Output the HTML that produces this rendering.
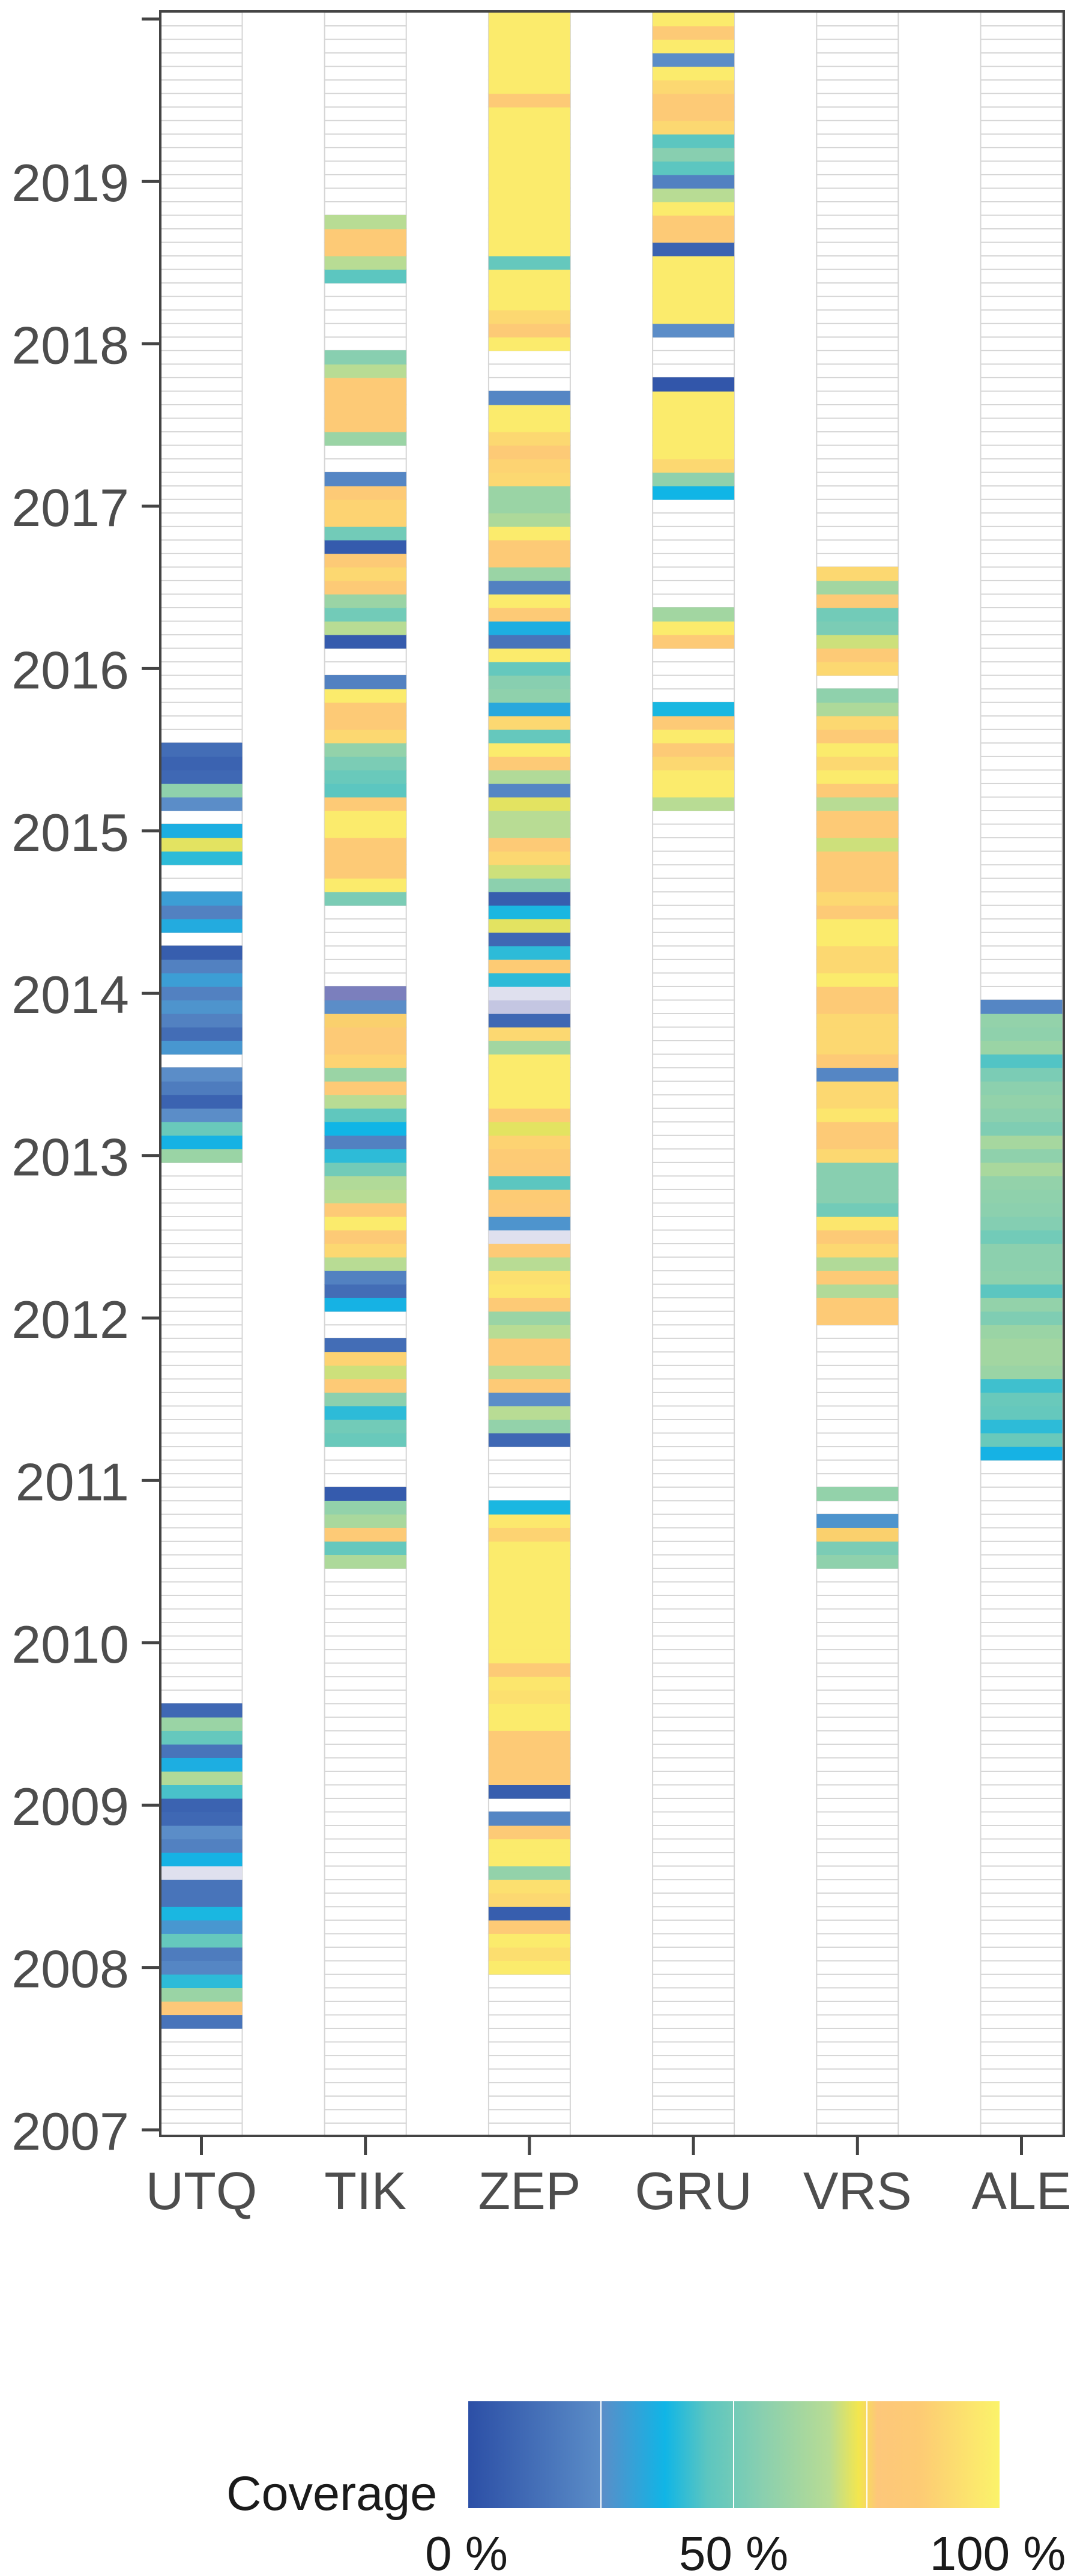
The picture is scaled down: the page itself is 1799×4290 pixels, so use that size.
<!DOCTYPE html>
<html><head><meta charset="utf-8"><style>
html,body{margin:0;padding:0;background:#fff}
svg{display:block}
text{font-family:"Liberation Sans",Arial,sans-serif}
</style></head><body>
<svg id="chart" width="1799" height="4290" viewBox="0 0 1799 4290" xmlns="http://www.w3.org/2000/svg">
<defs>
<linearGradient id="cbar" x1="0" x2="1" y1="0" y2="0">
<stop offset="0" stop-color="#2c4fa6"/><stop offset="0.25" stop-color="#5b8dc8"/><stop offset="0.37" stop-color="#10b5e6"/><stop offset="0.45" stop-color="#5cc6c0"/><stop offset="0.55" stop-color="#88cfb0"/><stop offset="0.68" stop-color="#b8dc94"/><stop offset="0.735" stop-color="#f3e64e"/><stop offset="0.77" stop-color="#fdc77a"/><stop offset="0.85" stop-color="#fdcb74"/><stop offset="1" stop-color="#fbf36a"/>
</linearGradient>
</defs>
<g id="cells"></g>
<g id="axes"></g>
<g>
<text x="377" y="4180" font-size="81" fill="#1a1a1a">Coverage</text>
<rect x="780" y="3999" width="885" height="178" fill="url(#cbar)"/>
<line x1="1001" x2="1001" y1="3999" y2="4177" stroke="#fff" stroke-width="2"/>
<line x1="1222" x2="1222" y1="3999" y2="4177" stroke="#fff" stroke-width="2"/>
<line x1="1444" x2="1444" y1="3999" y2="4177" stroke="#fff" stroke-width="2"/>
<text x="777" y="4280" font-size="80" text-anchor="middle" fill="#1a1a1a">0 %</text>
<text x="1222" y="4280" font-size="80" text-anchor="middle" fill="#1a1a1a">50 %</text>
<text x="1662" y="4280" font-size="80" text-anchor="middle" fill="#1a1a1a">100 %</text>
</g>
</svg>
<script>
const stations = ["UTQ","TIK","ZEP","GRU","VRS","ALE"];
const yearTicks = [2007,2008,2009,2010,2011,2012,2013,2014,2015,2016,2017,2018,2019,2020];
const yearLabels = ["2007","2008","2009","2010","2011","2012","2013","2014","2015","2016","2017","2018","2019",""];
const startYear = 2007;
const N = null;
// monthly coverage, index 0 = Jan 2007 ... 156 = Jan 2020
const utq = [
N,N,N,N,N,N,N,N,0.15,0.78,0.6,0.4,
0.22,0.18,0.47,0.28,0.38,0.15,0.15,1.05,0.36,0.2,0.25,0.1,
0.08,0.43,0.66,0.35,0.15,0.47,0.6,0.1,N,N,N,N,
N,N,N,N,N,N,N,N,N,N,N,N,
N,N,N,N,N,N,N,N,N,N,N,N,
N,N,N,N,N,N,N,N,N,N,N,N,
0.6,0.36,0.48,0.25,0.08,0.18,0.25,N,0.28,0.12,0.2,0.27,
0.2,0.3,0.2,0.06,N,0.34,0.2,0.3,N,N,0.4,0.72,
0.35,N,0.25,0.57,0.1,0.08,0.12,N,N,N,N,N,
N,N,N,N,N,N,N,N,N,N,N,N,
N,N,N,N,N,N,N,N,N,N,N,N,
N,N,N,N,N,N,N,N,N,N,N,N,
N,N,N,N,N,N,N,N,N,N,N,N,
N];
const tik = [
N,N,N,N,N,N,N,N,N,N,N,N,
N,N,N,N,N,N,N,N,N,N,N,N,
N,N,N,N,N,N,N,N,N,N,N,N,
N,N,N,N,N,N,0.65,0.47,0.82,0.64,0.58,0.05,
N,N,N,0.48,0.5,0.4,0.56,0.82,0.7,0.88,0.12,N,
N,0.36,0.12,0.2,0.68,0.9,0.82,0.97,0.82,0.68,0.66,0.5,
0.4,0.2,0.37,0.46,0.68,0.82,0.6,0.88,0.82,0.82,0.76,0.25,
1.3,N,N,N,N,N,N,0.52,0.97,0.83,0.82,0.82,
0.97,0.97,0.82,0.45,0.48,0.52,0.58,0.9,0.82,0.82,0.97,0.2,
N,N,0.05,0.68,0.5,0.6,0.82,0.9,0.82,0.05,0.5,0.88,
0.88,0.82,0.22,N,N,0.6,0.82,0.82,0.82,0.82,0.68,0.55,
N,N,N,N,N,0.45,0.68,0.82,0.82,0.68,N,N,
N,N,N,N,N,N,N,N,N,N,N,N,
N];
const zep = [
N,N,N,N,N,N,N,N,N,N,N,N,
0.97,0.92,0.97,0.82,0.06,0.9,0.93,0.58,0.97,0.97,0.82,0.22,
N,0.06,0.82,0.82,0.82,0.82,0.97,0.97,0.93,0.95,0.83,0.97,
0.97,0.97,0.97,0.97,0.97,0.97,0.97,0.97,0.88,0.96,0.38,N,
N,N,N,0.1,0.58,0.68,0.25,0.82,0.68,0.82,0.82,0.68,
0.6,0.82,0.95,0.93,0.68,0.83,1.05,0.27,0.82,0.85,0.45,0.82,
0.84,0.88,0.72,0.82,0.97,0.97,0.97,0.97,0.62,0.9,0.1,1.1,
1.05,0.4,0.85,0.4,0.1,0.72,0.38,0.06,0.56,0.7,0.9,0.82,
0.68,0.68,0.72,0.22,0.66,0.82,0.97,0.47,0.9,0.33,0.57,0.55,
0.47,0.97,0.15,0.35,0.82,0.97,0.2,0.6,0.82,0.82,0.97,0.65,
0.6,0.6,0.9,0.88,0.82,0.9,0.97,0.97,0.22,N,N,N,
0.97,0.82,0.9,0.97,0.97,0.97,0.47,0.97,0.97,0.97,0.97,0.97,
0.97,0.97,0.97,0.97,0.97,0.97,0.82,0.97,0.97,0.97,0.97,0.97,
0.97];
const gru = [
N,N,N,N,N,N,N,N,N,N,N,N,
N,N,N,N,N,N,N,N,N,N,N,N,
N,N,N,N,N,N,N,N,N,N,N,N,
N,N,N,N,N,N,N,N,N,N,N,N,
N,N,N,N,N,N,N,N,N,N,N,N,
N,N,N,N,N,N,N,N,N,N,N,N,
N,N,N,N,N,N,N,N,N,N,N,N,
N,N,N,N,N,N,N,N,N,N,N,N,
N,N,0.68,0.97,0.97,0.9,0.82,0.97,0.82,0.38,N,N,
N,N,0.82,0.97,0.62,N,N,N,N,N,N,N,
N,0.37,0.57,0.9,0.97,0.97,0.97,0.97,0.97,0.03,N,N,
N,0.25,0.97,0.97,0.97,0.97,0.97,0.08,0.82,0.82,0.97,0.68,
0.2,0.45,0.55,0.45,0.9,0.82,0.82,0.9,0.97,0.25,0.97,0.82,
0.97];
const vrs = [
N,N,N,N,N,N,N,N,N,N,N,N,
N,N,N,N,N,N,N,N,N,N,N,N,
N,N,N,N,N,N,N,N,N,N,N,N,
N,N,N,N,N,N,0.57,0.52,0.76,0.27,N,0.58,
N,N,N,N,N,N,N,N,N,N,N,N,
0.82,0.82,0.66,0.82,0.66,0.9,0.82,0.95,0.5,0.55,0.55,0.55,
0.9,0.82,0.82,0.95,0.9,0.9,0.22,0.82,0.9,0.9,0.9,0.82,
0.82,0.97,0.9,0.9,0.97,0.97,0.82,0.9,0.82,0.82,0.82,0.7,
0.82,0.82,0.68,0.82,0.97,0.9,0.97,0.82,0.9,0.65,0.57,N,
0.9,0.82,0.7,0.52,0.5,0.82,0.62,0.9,N,N,N,N,
N,N,N,N,N,N,N,N,N,N,N,N,
N,N,N,N,N,N,N,N,N,N,N,N,
N,N,N,N,N,N,N,N,N,N,N,N,
N];
const ale = [
N,N,N,N,N,N,N,N,N,N,N,N,
N,N,N,N,N,N,N,N,N,N,N,N,
N,N,N,N,N,N,N,N,N,N,N,N,
N,N,N,N,N,N,N,N,N,N,N,N,
N,N,0.36,0.48,0.4,0.47,0.48,0.42,0.6,0.62,0.62,0.6,
0.53,0.58,0.45,0.57,0.56,0.56,0.5,0.54,0.56,0.57,0.58,0.64,
0.57,0.63,0.53,0.56,0.58,0.56,0.52,0.44,0.6,0.57,0.58,0.22,
N,N,N,N,N,N,N,N,N,N,N,N,
N,N,N,N,N,N,N,N,N,N,N,N,
N,N,N,N,N,N,N,N,N,N,N,N,
N,N,N,N,N,N,N,N,N,N,N,N,
N,N,N,N,N,N,N,N,N,N,N,N,
N,N,N,N,N,N,N,N,N,N,N,N,
N];
const series = [utq, tik, zep, gru, vrs, ale];

const SVGNS = "http://www.w3.org/2000/svg";
const panel = {left:267, right:1772, top:19, bottom:3557};
const yPx0 = 3547, yearPx = 270.4;
function yScale(d){ return yPx0 - (d - startYear) * yearPx; }
const bandStep = 273.2, bandW = 136;
function xScale(i){ return 335.5 + i * bandStep; }
const stops = [[0,[44,79,166]],[0.25,[91,141,200]],[0.37,[16,181,230]],[0.45,[92,198,192]],[0.55,[136,207,176]],[0.68,[184,220,148]],[0.735,[243,230,78]],[0.77,[253,199,122]],[0.85,[253,203,116]],[1,[251,243,106]],[1.05,[223,224,238]],[1.1,[196,198,226]],[1.3,[123,127,189]]];
function colorOf(v){
  if (v <= stops[0][0]) return "rgb("+stops[0][1].join(",")+")";
  for (let i=1;i<stops.length;i++){
    if (v <= stops[i][0]){
      const a=stops[i-1], b=stops[i], t=(v-a[0])/(b[0]-a[0]);
      const c=a[1].map((x,j)=>Math.round(x+(b[1][j]-x)*t));
      return "rgb("+c.join(",")+")";
    }
  }
  return "rgb("+stops[stops.length-1][1].join(",")+")";
}
function mk(tag, attrs, parent){
  const el=document.createElementNS(SVGNS,tag);
  for (const k in attrs) el.setAttribute(k, attrs[k]);
  parent.appendChild(el); return el;
}
const cellsG=document.getElementById("cells");
const axesG=document.getElementById("axes");
const rowH = yearPx/12;
series.forEach((vals, si) => {
  const cx = xScale(si);
  const g = mk("g", {}, cellsG);
  
  
  vals.forEach((v, k) => {
    const yc = yScale(startYear + k/12);
    const bg = mk("rect", {x:cx-bandW/2, y:yc-rowH/2, width:bandW, height:rowH, fill:"#fff", stroke:"#d6d6d6", "stroke-width":2}, g);
    
    
  });
  vals.forEach((v, k) => {
    if (v === null) return;
    const yc = yScale(startYear + k/12);
    const r = mk("rect", {x:cx-bandW/2, y:yc-rowH/2-0.6, width:bandW, height:rowH+1.2, fill:colorOf(v)}, g);
    
    
  });
});
// panel border
const border = mk("rect", {x:panel.left, y:panel.top, width:panel.right-panel.left, height:panel.bottom-panel.top, fill:"none", stroke:"#444", "stroke-width":4}, axesG);


yearTicks.forEach((yr, i) => {
  const y = yScale(yr);
  const t = mk("line", {x1:236, x2:panel.left, y1:y, y2:y, stroke:"#444", "stroke-width":5}, axesG);
  
  
  if (yearLabels[i]) {
    const tx = mk("text", {x:215, y:y+33, "font-size":88, "text-anchor":"end", fill:"#4d4d4d"}, axesG);
    
    
    tx.textContent = yearLabels[i];
  }
});
stations.forEach((s, i) => {
  const x = xScale(i);
  const t = mk("line", {x1:x, x2:x, y1:panel.bottom, y2:panel.bottom+32, stroke:"#444", "stroke-width":5}, axesG);
  
  
  const tx = mk("text", {x:x, y:3679, "font-size":88, "text-anchor":"middle", fill:"#4d4d4d"}, axesG);
  
  
  tx.textContent = s;
});
</script>
</body></html>
